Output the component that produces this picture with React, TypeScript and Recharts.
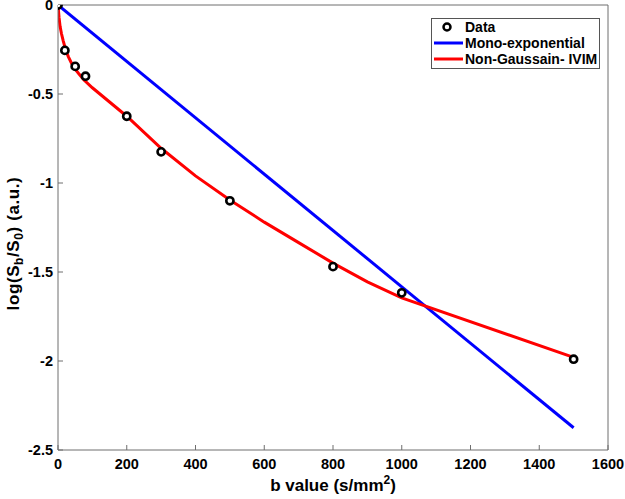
import React from "react";
import {
  ComposedChart,
  Line,
  Scatter,
  XAxis,
  YAxis,
  Legend,
} from "recharts";

const xTicks = [0, 200, 400, 600, 800, 1000, 1200, 1400, 1600];
const yTicks = [-2.5, -2, -1.5, -1, -0.5, 0];

const dataB = [0, 20, 50, 80, 200, 300, 500, 800, 1000, 1500];
const dataY = [0, -0.255, -0.345, -0.4, -0.625, -0.825, -1.1, -1.47, -1.617, -1.99];

const monoB = [0, 1500];
const monoY = [0, -2.375];

const ivimB = [0, 3, 6, 10, 15, 20, 25, 30, 40, 50, 60, 75, 100, 150, 200, 300, 400, 500, 600, 700, 800, 900, 1000, 1500];
const ivimY = [0, -0.07, -0.12, -0.16, -0.2, -0.235, -0.265, -0.29, -0.33, -0.36, -0.385, -0.42, -0.465, -0.545, -0.625, -0.805, -0.96, -1.095, -1.22, -1.335, -1.45, -1.555, -1.645, -1.98];

const dataPts = dataB.map((b, i) => ({ b, y: dataY[i] }));
const monoPts = monoB.map((b, i) => ({ b, y: monoY[i] }));
const ivimPts = ivimB.map((b, i) => ({ b, y: ivimY[i] }));

const FONT = "'Liberation Sans', Arial, sans-serif";
const AXIS = "#6e6e6e";

const XTitle = (props: any) => {
  const vb = props.viewBox || {};
  const cx = vb.x + vb.width / 2;
  return (
    <text x={cx} y={491} textAnchor="middle" fontFamily={FONT} fontWeight="bold" fontSize={17} fill="#000">
      b value (s/mm
      <tspan dy={-7} fontSize={12}>2</tspan>
      <tspan dy={7} fontSize={17}>)</tspan>
    </text>
  );
};

const YTitle = (props: any) => {
  const vb = props.viewBox || {};
  const cy = vb.y + vb.height / 2 + 16;
  const cx = 19;
  return (
    <text
      x={cx}
      y={cy}
      textAnchor="middle"
      transform={`rotate(-90, ${cx}, ${cy})`}
      fontFamily={FONT}
      fontWeight="bold"
      fontSize={17}
      letterSpacing={0.6}
      fill="#000"
    >
      log(S
      <tspan dy={4} fontSize={12}>b</tspan>
      <tspan dy={-4} fontSize={17}>/S</tspan>
      <tspan dy={4} fontSize={12}>0</tspan>
      <tspan dy={-4} fontSize={17}>) (a.u.)</tspan>
    </text>
  );
};

const LegendBox = () => (
  <div style={{ width: 169, height: 51, boxSizing: "border-box", border: "1px solid #555", background: "#fff" }}>
    <svg width={167} height={49} style={{ display: "block" }}>
      <circle cx={15} cy={8} r={3.5} fill="#fff" stroke="#000" strokeWidth={2.5} />
      <text x={33} y={13} fontFamily={FONT} fontWeight="bold" fontSize={14} fill="#000">Data</text>
      <line x1={2} x2={31} y1={24} y2={24} stroke="#0000ff" strokeWidth={3} />
      <text x={33} y={29} fontFamily={FONT} fontWeight="bold" fontSize={14} fill="#000">Mono-exponential</text>
      <line x1={2} x2={31} y1={40} y2={40} stroke="#ff0000" strokeWidth={3} />
      <text x={33} y={45} fontFamily={FONT} fontWeight="bold" fontSize={14} fill="#000">Non-Gaussain- IVIM</text>
    </svg>
  </div>
);

const Ring = (p: any) => (
  <circle cx={p.cx} cy={p.cy} r={3.6} fill="#fff" stroke="#000" strokeWidth={2.6} />
);

const tickStyle = { fontFamily: FONT, fontWeight: "bold", fontSize: 14.5, fill: "#000" } as any;

export default function App() {
  return (
    <div style={{ position: "absolute", left: 0, top: 0, background: "#fff" }}>
      <ComposedChart width={625} height={499} margin={{ top: 0, right: 0, bottom: 0, left: 0 }}>
        <XAxis
          xAxisId="b"
          dataKey="b"
          type="number"
          domain={[0, 1600]}
          ticks={xTicks}
          orientation="bottom"
          height={49}
          tickSize={-5}
          tickMargin={14}
          stroke={AXIS}
          tick={tickStyle}
          interval={0}
          allowDataOverflow
          label={<XTitle />}
        />
        <XAxis
          xAxisId="t"
          dataKey="b"
          type="number"
          domain={[0, 1600]}
          ticks={xTicks}
          orientation="top"
          height={5}
          tickSize={-5}
          tick={false}
          stroke={AXIS}
          interval={0}
        />
        <YAxis
          yAxisId="l"
          type="number"
          domain={[-2.5, 0]}
          ticks={yTicks}
          orientation="left"
          width={58}
          tickSize={-5}
          tickMargin={10}
          stroke={AXIS}
          tick={tickStyle}
          interval={0}
          allowDataOverflow
          label={<YTitle />}
        />
        <YAxis
          yAxisId="r"
          type="number"
          domain={[-2.5, 0]}
          ticks={yTicks}
          orientation="right"
          width={17}
          tickSize={-5}
          tick={false}
          stroke={AXIS}
          interval={0}
        />
        <Legend
          layout="horizontal"
          verticalAlign="middle"
          align="center"
          content={() => <LegendBox />}
          wrapperStyle={{ position: "absolute", left: 431, top: 18, width: 169, height: 51 }}
        />
        <Scatter
          name="Data"
          xAxisId="b"
          yAxisId="l"
          data={dataPts}
          dataKey="y"
          shape={<Ring />}
          isAnimationActive={false}
        />
        <Line
          name="Mono-exponential"
          xAxisId="b"
          yAxisId="l"
          data={monoPts}
          dataKey="y"
          type="linear"
          stroke="#0000ff"
          strokeWidth={3}
          dot={false}
          activeDot={false}
          isAnimationActive={false}
        />
        <Line
          name="Non-Gaussain- IVIM"
          xAxisId="b"
          yAxisId="l"
          data={ivimPts}
          dataKey="y"
          type="linear"
          stroke="#ff0000"
          strokeWidth={3}
          dot={false}
          activeDot={false}
          isAnimationActive={false}
        />
      </ComposedChart>
    </div>
  );
}
